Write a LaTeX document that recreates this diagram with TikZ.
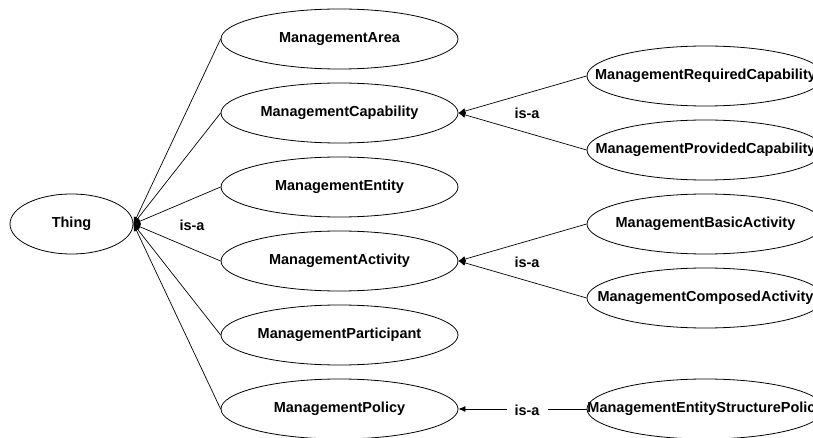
\documentclass[tikz,border=0pt]{standalone}
\usepackage{fontspec}
\setmainfont{Liberation Sans}
\usetikzlibrary{shapes.geometric,arrows.meta}
\newcommand{\cname}[1]{\makebox[0pt]{#1}}
\tikzset{
  cls/.style={ellipse,draw,line width=0.8pt,minimum width=237pt,minimum height=60pt,
    inner sep=0pt,font=\bfseries\fontsize{14.5}{16}\selectfont},
  isa/.style={fill=white,inner xsep=8pt,inner ysep=2pt,font=\bfseries\fontsize{14.5}{16}\selectfont},
  sub/.style={-{Latex[length=7pt,width=6pt]},line width=0.7pt}
}
\begin{document}
\begin{tikzpicture}[x=1pt,y=-1pt]
  \useasboundingbox (0,0) rectangle (813,438);
  \draw
    (71.5,224) node[cls,minimum width=123pt] (thing){\cname{Thing}}
    (339.5,39) node[cls] (area){\cname{ManagementArea}}
    (339.5,113) node[cls] (cap){\cname{ManagementCapability}}
    (339.5,187) node[cls] (ent){\cname{ManagementEntity}}
    (339.5,261) node[cls] (act){\cname{ManagementActivity}}
    (339.5,335) node[cls] (part){\cname{ManagementParticipant}}
    (339.5,409) node[cls] (pol){\cname{ManagementPolicy}}
    (705.5,76) node[cls] (req){\cname{ManagementRequiredCapability}}
    (705.5,150) node[cls] (prov){\cname{ManagementProvidedCapability}}
    (705.5,224) node[cls] (basic){\cname{ManagementBasicActivity}}
    (705.5,298) node[cls] (comp){\cname{ManagementComposedActivity}}
    (705.5,409) node[cls] (esp){\cname{ManagementEntityStructurePolicy}};
  \begin{scope}[sub]
    \draw (area.west) to (thing.east);
    \draw (cap.west) to (thing.east);
    \draw (ent.west) to (thing.east);
    \draw (act.west) to (thing.east);
    \draw (part.west) to (thing.east);
    \draw (pol.west) to (thing.east);
    \draw (req.west) to (cap.east);
    \draw (prov.west) to (cap.east);
    \draw (basic.west) to (act.east);
    \draw (comp.west) to (act.east);
    \draw (esp.west) to (pol.east);
  \end{scope}
  \node[isa] (isa1) at (192,225) {is-a};
  \node[isa] (isa2) at (527,113) {is-a};
  \node[isa] (isa3) at (527,262) {is-a};
  \node[isa] (isa4) at (527,410) {is-a};
\end{tikzpicture}
\end{document}
